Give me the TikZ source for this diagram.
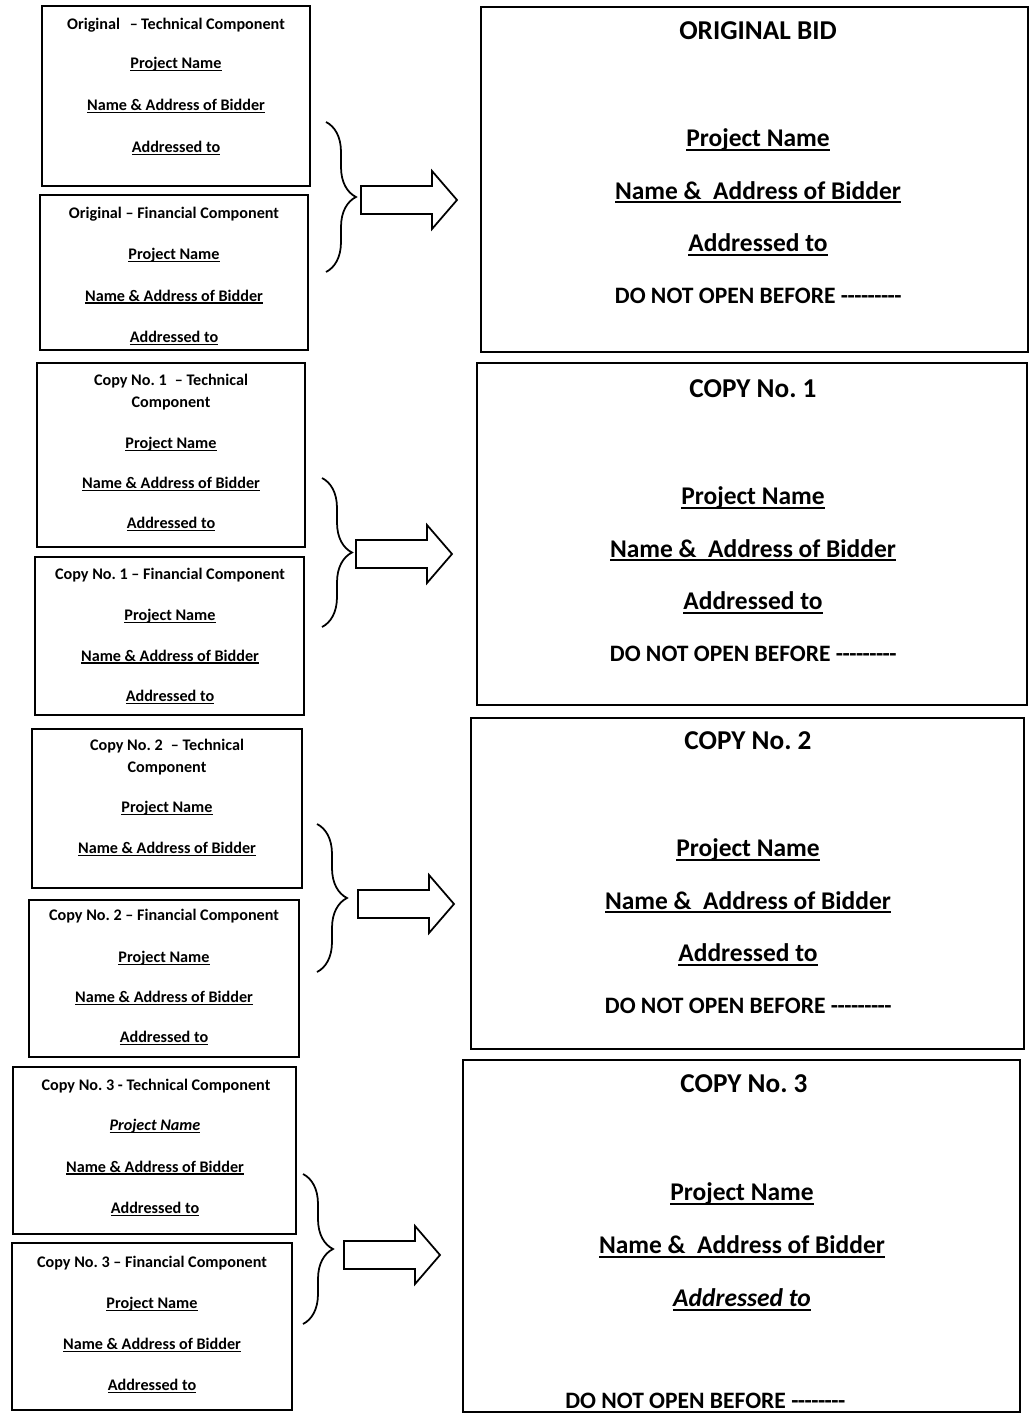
\documentclass[tikz,border=0pt]{standalone}
\usepackage{fontspec}
\setmainfont{Carlito}
\usetikzlibrary{fit,decorations.pathreplacing}
\frenchspacing

% underline close to the baseline
\newcommand{\uln}[1]{\setbox0\hbox{#1}\rlap{\rule[-0.15em]{\wd0}{0.07em}}\box0}
\newcommand{\blanks}[1]{\foreach \k in {1,...,#1}{-\kern-0.3pt}}
% fat outline arrow, tail centre at node #1
\newcommand{\fatarrow}[1]{\draw[fat] ([shift={(0,-14)}]#1) -- ++(71,0) -- ++(0,-15) -- ++(25,29) -- ++(-25,29) -- ++(0,-15) -- ++(-71,0) -- cycle;}

\tikzset{
  pack/.style={draw, line width=0.9pt, inner sep=0pt},
  head/.style={font=\fontsize{9.2}{11}\selectfont\bfseries, inner sep=0pt, anchor=base, yshift=-3.2pt},
  item/.style={head},
  big/.style={font=\fontsize{14.5}{17}\selectfont\bfseries, inner sep=0pt, anchor=base, yshift=-5pt},
  bigtitle/.style={big, font=\fontsize{15.5}{18}\selectfont\bfseries},
  warn/.style={big, font=\fontsize{13.4}{16}\selectfont\bfseries},
  curly/.style={decorate, decoration={brace, amplitude=0.6cm}, line width=1pt},
  fat/.style={line width=1pt, line join=miter}
}

\begin{document}
\begin{tikzpicture}[x=0.02cm, y=-0.02cm]
\path[fill=white] (0,0) rectangle (1030,1415);
\useasboundingbox (0,0) rectangle (1030,1415);

% left: technical and financial packets
\node[pack, fit={(42,6) (310,186)}] (A1) {};
\node[pack, fit={(40,195) (308,350)}] (A2) {};
\node[pack, fit={(37,363) (305,547)}] (B1) {};
\node[pack, fit={(35,557) (304,715)}] (B2) {};
\node[pack, fit={(32,729) (302,888)}] (C1) {};
\node[pack, fit={(29,900) (299,1057)}] (C2) {};
\node[pack, fit={(13,1067) (296,1234)}] (D1) {};
\node[pack, fit={(12,1243) (292,1410)}] (D2) {};

\node[head] (A1h) at (176,24) {Original\hspace{0.6em}–\hspace{0.2em}Technical Component};
\foreach \t [count=\i] in {Project Name, Name \& Address of Bidder, Addressed to}
\node[item] (A1-\i) at (176,{21+42*\i}) {\uln{\t}};
\node[head] (A2h) at (174,213) {Original – Financial Component};
\foreach \t [count=\i] in {Project Name, Name \& Address of Bidder, Addressed to}
\node[item] (A2-\i) at (174,{212.5+41.5*\i}) {\uln{\t}};

\node[head] (B1h) at (171,380) {Copy No. 1\hspace{0.5em}– Technical};
\node[head] (B1h2) at (171,402) {Component};
\foreach \t [count=\i] in {Project Name, Name \& Address of Bidder, Addressed to}
\node[item] (B1-\i) at (171,{403+40*\i}) {\uln{\t}};
\node[head] (B2h) at (170,574) {Copy No. 1 – Financial Component};
\foreach \t [count=\i] in {Project Name, Name \& Address of Bidder, Addressed to}
\node[item] (B2-\i) at (170,{574.5+40.5*\i}) {\uln{\t}};

\node[head] (C1h) at (167,745) {Copy No. 2\hspace{0.5em}– Technical};
\node[head] (C1h2) at (167,767) {Component};
\foreach \t [count=\i] in {Project Name, Name \& Address of Bidder}
\node[item] (C1-\i) at (167,{766+41*\i}) {\uln{\t}};
\node[head] (C2h) at (164,915) {Copy No. 2 – Financial Component};
\foreach \t [count=\i] in {Project Name, Name \& Address of Bidder, Addressed to}
\node[item] (C2-\i) at (164,{917+40*\i}) {\uln{\t}};

\node[head] (D1h) at (156,1085) {Copy No. 3 - Technical Component};
\foreach \t [count=\i] in {{\itshape Project Name}, Name \& Address of Bidder, Addressed to}
\node[item] (D1-\i) at (155,{1083.5+41.5*\i}) {\uln{\t}};
\node[head] (D2h) at (152,1262) {Copy No. 3 – Financial Component};
\foreach \t [count=\i] in {Project Name, Name \& Address of Bidder, Addressed to}
\node[item] (D2-\i) at (152,{1262+41*\i}) {\uln{\t}};

% braces and arrows
\coordinate (b1t) at (326,122); \coordinate (b1b) at (326,272);
\coordinate (b2t) at (322,478); \coordinate (b2b) at (322,627);
\coordinate (b3t) at (317,824); \coordinate (b3b) at (317,972);
\coordinate (b4t) at (303,1174); \coordinate (b4b) at (303,1324);
\foreach \n in {1,...,4}
\draw[curly] (b\n t) -- (b\n b);

\coordinate (t1) at (361,200);
\coordinate (t2) at (356,554);
\coordinate (t3) at (358,904);
\coordinate (t4) at (344,1255);
\foreach \n in {1,...,4}{\fatarrow{t\n}}

% right: sealed envelopes
\node[pack, fit={(481,7) (1028,352)}] (R1) {};
\node[pack, fit={(477,363) (1027,705)}] (R2) {};
\node[pack, fit={(471,718) (1024,1049)}] (R3) {};
\node[pack, fit={(463,1060) (1020,1412)}] (R4) {};

\foreach \n/\x/\y/\ttl in {1/758/31/ORIGINAL BID, 2/753/389/COPY No. 1, 3/748/741/COPY No. 2}{
  \node[bigtitle] (R\n h) at (\x,\y) {\ttl};
  \foreach \t [count=\i] in {Project Name, Name \&\ \ Address of Bidder, Addressed to}
  \node[big] (R\n-\i) at (\x,{\y+54.5+52.5*\i}) {\uln{\t}};
  \node[warn] (R\n d) at (\x,\y+264) {DO NOT OPEN BEFORE \blanks{9}};
}
\node[bigtitle] (R4h) at (744,1084) {COPY No. 3};
\foreach \t [count=\i] in {Project Name, Name \&\ \ Address of Bidder, {\itshape Addressed to}}
\node[big] (R4-\i) at (742,{1139+53*\i}) {\uln{\t}};
\node[warn] (R4d) at (705,1400) {DO NOT OPEN BEFORE \blanks{8}};
\end{tikzpicture}
\end{document}
